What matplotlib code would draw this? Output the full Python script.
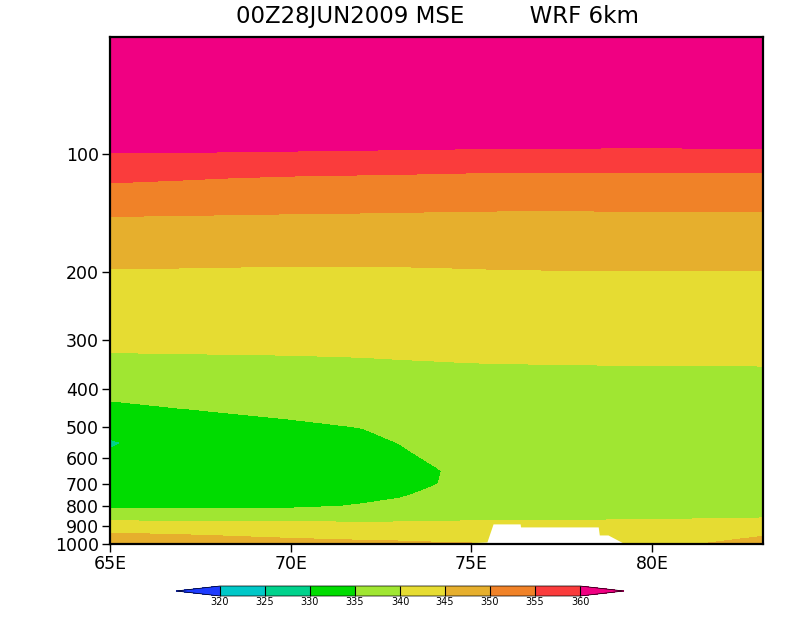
import numpy as np
import matplotlib
matplotlib.use("Agg")
import matplotlib.pyplot as plt
from matplotlib.ticker import NullLocator

# Gitter: Laengengrade (Spalten) und Druckflaechen (Zeilen)
lons = [65, 67, 70, 72, 73, 74, 75, 77, 80, 83.1]
plevs = [1000, 950, 900, 850, 800, 750, 700, 650, 600, 550, 500, 450,
         400, 350, 300, 250, 200, 175, 150, 130, 115, 100, 75, 50]

# MSE (K) je Laengengrad, von 1000 hPa nach oben
mse_65 = [348.5, 345.9, 342.4, 338.3, 334.3, 333.8, 332.8, 331.8, 330.8, 329.5, 331.7, 334.0,
          336.4, 338.8, 341.0, 342.9, 344.75, 346.7, 349.1, 352.3, 355.8, 359.7, 368.8, 378]
mse_67 = [347.5, 345.2, 341.9, 337.9, 334.2, 333.6, 332.6, 331.6, 331.5, 332.6, 333.8, 334.96,
          337.0, 339.0, 340.98, 342.8, 344.67, 346.6, 349.0, 352.1, 355.3, 359.6, 368.7, 378]
mse_70 = [346.5, 344.2, 341.5, 338.2, 334.3, 333.8, 332.7, 331.7, 332.3, 333.4, 334.4, 335.8,
          337.5, 339.2, 341.0, 342.8, 344.56, 346.3, 348.9, 351.7, 354.6, 359.3, 368.6, 378]
mse_72 = [346.0, 343.7, 341.2, 338.4, 335.3, 334.07, 333.0, 332.0, 333.05, 334.1, 335.1, 336.6,
          338.0, 339.4, 341.06, 342.8, 344.6, 346.3, 348.8, 351.6, 354.35, 359.1, 368.5, 378]
mse_73 = [345.8, 343.5, 341.1, 338.6, 336.2, 334.57, 333.7, 333.5, 334.27, 335.05, 336.2, 337.3,
          338.4, 339.57, 341.1, 342.85, 344.6, 346.4, 348.8, 351.5, 354.2, 358.98, 368.5, 378]
mse_74 = [345.5, 343.24, 340.9, 339.1, 337.5, 336.0, 334.83, 334.73, 335.5, 336.4, 337.2, 338.0,
          338.9, 339.7, 341.1, 342.9, 344.65, 346.4, 348.8, 351.3, 354.1, 358.9, 368.4, 378]
mse_75 = [345.3, 342.95, 340.7, 339.45, 338.66, 337.9, 337.1, 336.3, 336.9, 337.5, 338.05, 338.6,
          339.2, 339.8, 341.2, 342.98, 344.75, 346.6, 348.8, 351.2, 353.9, 358.75, 368.4, 378]
mse_77 = [343.5, 342.04, 340.58, 339.6, 338.96, 338.3, 337.65, 337.0, 337.48, 337.96, 338.44, 338.92,
          339.4, 339.88, 341.34, 343.1, 344.86, 346.75, 348.8, 351.07, 353.75, 358.57, 368.4, 378]
mse_80 = [343.5, 342.1, 340.65, 339.7, 339.15, 338.6, 338.05, 337.5, 337.9, 338.3, 338.7, 339.1,
          339.55, 339.96, 341.5, 343.2, 344.9, 346.8, 348.9, 351.15, 353.8, 358.57, 368.3, 378]
mse_83 = [347.0, 344.8, 341.5, 339.75, 339.3, 338.9, 338.44, 338.0, 338.33, 338.67, 339.0, 339.33,
          339.67, 339.98, 341.6, 343.3, 344.9, 346.8, 348.9, 351.2, 353.9, 358.6, 368.3, 378]

# Topographie (undefinierter Bereich, weiss)
topo_lon = [75.10, 75.13, 75.43, 75.60, 76.35, 76.36, 78.51, 78.54, 78.78, 79.20, 79.25]
topo_p = [1000, 991, 988, 888, 888, 904, 904, 948, 948, 994, 1000]

levels = [320, 325, 330, 335, 340, 345, 350, 355, 360]
colors = ['#1e3cff', '#00c8c8', '#00d28c', '#00dc00', '#a0e632', '#e6dc32',
          '#e6af2d', '#f08228', '#fa3c3c', '#f00082']

mse = np.array([mse_65, mse_67, mse_70, mse_72, mse_73, mse_74,
                mse_75, mse_77, mse_80, mse_83]).T

fig = plt.figure(figsize=(8, 6.18), dpi=100)
ax = fig.add_axes([110 / 800, 1 - 544 / 618, 653 / 800, 507 / 618])

cf = ax.contourf(lons, plevs, mse, levels=levels, colors=colors, extend='both')
ax.fill_between(topo_lon, topo_p, 1000, color='white', lw=0)

ax.set_yscale('log')
ax.set_ylim(1000, 50)
ax.set_xlim(65, 83.07)
yt = [100, 200, 300, 400, 500, 600, 700, 800, 900, 1000]
ax.set_yticks(yt)
ax.set_yticklabels([str(v) for v in yt])
ax.yaxis.set_minor_locator(NullLocator())
ax.set_xticks([65, 70, 75, 80])
ax.set_xticklabels(['65E', '70E', '75E', '80E'])
ax.tick_params(direction='out', length=6, width=1, labelsize=12.5, pad=2)
ax.tick_params(top=False, right=False)
for s in ax.spines.values():
    s.set_linewidth(1.6)

fig.text(437 / 800, 1 - 17 / 618, '00Z28JUN2009 MSE         WRF 6km',
         ha='center', va='center', fontsize=16.5)

# Farbskala (Dreiecke liegen innerhalb der Achse)
cax = fig.add_axes([176 / 800, 1 - 596 / 618, 448 / 800, 10 / 618])
cb = fig.colorbar(cf, cax=cax, orientation='horizontal', extendfrac=0.122,
                  drawedges=True)
cb.set_ticks(levels)
cb.set_ticklabels([str(v) for v in levels])
cb.outline.set_linewidth(0.5)
cb.dividers.set_linewidth(0.8)
cax.tick_params(length=0, labelsize=7, pad=1)

plt.savefig("out.png", dpi=100)
